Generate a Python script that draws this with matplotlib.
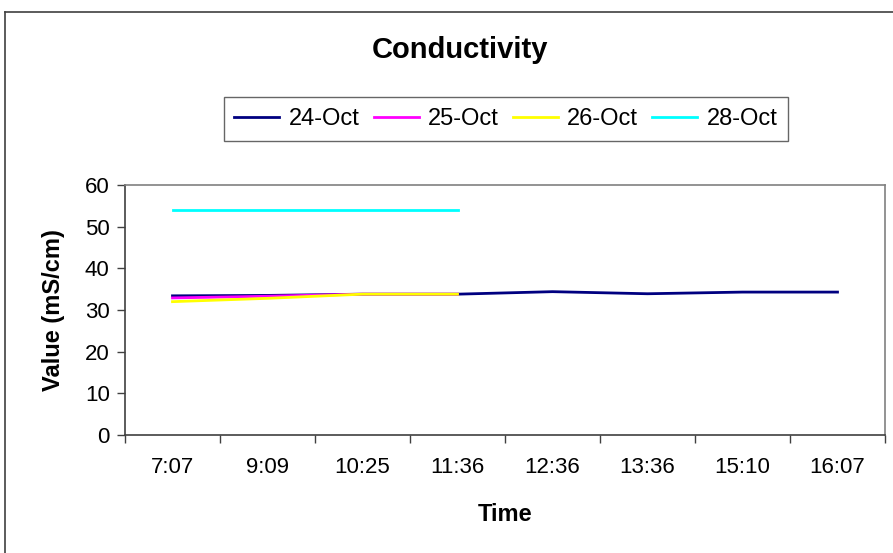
import matplotlib.pyplot as plt
from matplotlib.lines import Line2D

plt.rcParams['font.family'] = ['Liberation Sans', 'DejaVu Sans']

times = ['7:07', '9:09', '10:25', '11:36', '12:36', '13:36', '15:10', '16:07']
oct24 = [33.4, 33.5, 33.8, 33.8, 34.4, 33.9, 34.3, 34.3]
oct25 = [32.9, 33.3, 33.8, 33.8]
oct26 = [32.0, 32.8, 33.8, 33.8]
oct28 = [54.1, 54.1, 54.1, 54.1]

names = ['24-Oct', '25-Oct', '26-Oct', '28-Oct']
colors = ['#000080', '#ff00ff', '#ffff00', '#00ffff']

fig = plt.figure(figsize=(8.93, 5.53), dpi=100)
ax = fig.add_axes([125/893, 118/553, 760/893, 250/553])

# outer chart border (runs off the right/bottom edge)
fig.add_artist(Line2D([5/893, 5/893], [0, 1 - 12/553], transform=fig.transFigure, color='#404040', lw=1.2))
fig.add_artist(Line2D([5/893, 1], [1 - 12/553, 1 - 12/553], transform=fig.transFigure, color='#404040', lw=1.2))

series = [oct24, oct25, oct26, oct28]
for vals, name, c in zip(series, names, colors):
    ax.plot(range(len(vals)), vals, color=c, lw=2, label=name)

ax.set_xlim(-0.5, len(times) - 0.5)
ax.set_ylim(0, 60)
ax.set_yticks(range(0, 61, 10))
ax.set_xticks(range(len(times)))
ax.set_xticklabels(times)
ax.set_xticks([i - 0.5 for i in range(len(times) + 1)], minor=True)
ax.tick_params(axis='x', which='major', length=0, pad=16, labelsize=16)
ax.tick_params(axis='x', which='minor', length=6, width=1, color='#404040', direction='out')
ax.tick_params(axis='y', length=6, width=1, color='#404040', labelsize=16, pad=5)

ax.spines['left'].set_color('#404040')
ax.spines['bottom'].set_color('#404040')
ax.spines['top'].set_color('#808080')
ax.spines['right'].set_color('#808080')
for s in ax.spines.values():
    s.set_linewidth(1.2)

ax.set_xlabel('Time', fontsize=17, fontweight='bold', labelpad=18)
ax.set_ylabel('Value (mS/cm)', fontsize=17, fontweight='bold', labelpad=14)
fig.text(460/893, 1 - 50/553, 'Conductivity', ha='center', va='center', fontsize=21, fontweight='bold')

leg = fig.legend(loc='center', bbox_to_anchor=(506/893, 1 - 119/553), ncol=4, fontsize=17,
                 frameon=True, fancybox=False, handlelength=1.9, handletextpad=0.4,
                 columnspacing=0.6, borderpad=0.45)
leg.get_frame().set_edgecolor('#404040')
leg.get_frame().set_linewidth(1.0)

fig.savefig('out.png', dpi=100)
